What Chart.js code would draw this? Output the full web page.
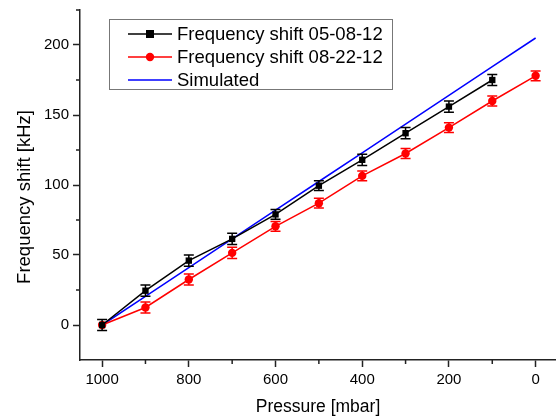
<!DOCTYPE html>
<html>
<head>
<meta charset="utf-8">
<script src="https://cdn.jsdelivr.net/npm/chart.js@4/dist/chart.umd.min.js"></script>
<style>
  body { margin: 0; background: #fff; }
</style>
</head>
<body>
<canvas id="chart" width="556" height="420"></canvas>
<script>
// pressure steps in mbar
const pressure = [1000, 900, 800, 700, 600, 500, 400, 300, 200, 100, 0];

// measured shifts in kHz (05-08-12 has no point at 0 mbar)
const shift0508 = [0, 24.5, 46, 61.5, 79, 99.5, 118, 137, 156, 175];
const err0508 = [4, 4, 4, 4, 3.5, 3.5, 4, 4, 4, 4];
const shift0822 = [0, 12.5, 32.5, 51.5, 70.5, 87, 106.5, 122.5, 141, 160, 178];
const err0822 = [0, 4, 4, 4, 3.5, 3.5, 3.5, 3.5, 3.5, 3.5, 3.5];
const simulated = [0, 20.5, 41, 61.5, 82, 102.5, 123, 143.5, 164, 184.5, 205];

const xTicks = [1000, 800, 600, 400, 200, 0];
const xMinor = [900, 700, 500, 300, 100];
const yTicks = [0, 50, 100, 150, 200];
const yMinor = [25, 75, 125, 175, 225];
const yTitle = "Frequency shift [kHz]";

const toPoints = (vals) => vals.map((v, i) => ({ x: pressure[i], y: v }));

const axisColor = "#222";
const fontFamily = "'Liberation Sans', Arial, sans-serif";

const errorBars = {
    id: "errorBars",
    afterDatasetsDraw(chart) {
        const { ctx, scales: { x, y } } = chart;
        chart.data.datasets.forEach((ds) => {
            if (!ds.errors) return;
            ctx.save();
            ctx.strokeStyle = ds.borderColor;
            ctx.lineWidth = 1.5;
            ds.data.forEach((p, i) => {
                const e = ds.errors[i];
                if (!e) return;
                const px = x.getPixelForValue(p.x);
                const top = y.getPixelForValue(p.y + e);
                const bot = y.getPixelForValue(p.y - e);
                ctx.beginPath();
                ctx.moveTo(px, top); ctx.lineTo(px, bot);
                ctx.moveTo(px - 5, top); ctx.lineTo(px + 5, top);
                ctx.moveTo(px - 5, bot); ctx.lineTo(px + 5, bot);
                ctx.stroke();
            });
            ctx.restore();
        });
    }
};

// minor ticks + y title (placed a bit below the axis centre like the original)
const axisExtras = {
    id: "axisExtras",
    afterDraw(chart) {
        const { ctx, scales: { x, y } } = chart;
        ctx.save();
        ctx.strokeStyle = axisColor;
        ctx.lineWidth = 1.5;
        ctx.beginPath();
        xMinor.forEach((v) => {
            const px = x.getPixelForValue(v);
            ctx.moveTo(px, x.top); ctx.lineTo(px, x.top + 4);
        });
        yMinor.forEach((v) => {
            const py = y.getPixelForValue(v);
            ctx.moveTo(y.right, py); ctx.lineTo(y.right - 4, py);
        });
        ctx.stroke();

        ctx.translate(25, 197);
        ctx.rotate(-Math.PI / 2);
        ctx.font = "18.5px " + fontFamily;
        ctx.fillStyle = "#000";
        ctx.textAlign = "center";
        ctx.textBaseline = "middle";
        ctx.fillText(yTitle, 0, 0);
        ctx.restore();
    }
};

const boxLegend = {
    id: "boxLegend",
    afterDraw(chart) {
        const ctx = chart.ctx;
        ctx.save();
        ctx.strokeStyle = "#777";
        ctx.lineWidth = 1;
        ctx.strokeRect(109.5, 19.5, 283, 70);
        ctx.font = "18.5px " + fontFamily;
        ctx.textBaseline = "middle";
        chart.data.datasets.forEach((ds, i) => {
            const cy = 34 + i * 23;
            ctx.strokeStyle = ds.borderColor;
            ctx.lineWidth = 1.5;
            ctx.beginPath();
            ctx.moveTo(128, cy); ctx.lineTo(172, cy);
            ctx.stroke();
            ctx.fillStyle = ds.borderColor;
            if (ds.pointStyle === "rect") {
                ctx.fillRect(146, cy - 4, 8, 8);
            } else if (ds.pointRadius > 0) {
                ctx.beginPath();
                ctx.arc(150, cy, 4.2, 0, Math.PI * 2);
                ctx.fill();
            }
            ctx.fillStyle = "#000";
            ctx.fillText(ds.label, 177, cy + 1);
        });
        ctx.restore();
    }
};

new Chart(document.getElementById("chart"), {
    type: "line",
    data: {
        datasets: [{
            label: "Frequency shift 05-08-12",
            data: toPoints(shift0508),
            errors: err0508,
            borderColor: "#000",
            backgroundColor: "#000",
            borderWidth: 1.5,
            pointStyle: "rect",
            pointRadius: 4.5,
            pointBorderWidth: 0
        }, {
            label: "Frequency shift 08-22-12",
            data: toPoints(shift0822),
            errors: err0822,
            borderColor: "#ff0000",
            backgroundColor: "#ff0000",
            borderWidth: 1.5,
            pointStyle: "circle",
            pointRadius: 4.2,
            pointBorderWidth: 0
        }, {
            label: "Simulated",
            data: toPoints(simulated),
            borderColor: "#0000ff",
            backgroundColor: "#0000ff",
            borderWidth: 1.5,
            pointRadius: 0
        }]
    },
    options: {
        responsive: false,
        animation: false,
        layout: { autoPadding: false, padding: { top: 10, right: 0, left: 0, bottom: 0 } },
        plugins: {
            legend: { display: false },
            tooltip: { enabled: false }
        },
        scales: {
            x: {
                type: "linear",
                reverse: true,
                min: -47,
                max: 1051,
                afterFit: (scale) => {
                    scale.height = 60;
                    scale.paddingLeft = 0;
                    scale.paddingRight = 0;
                },
                afterBuildTicks: (scale) => { scale.ticks = xTicks.map((v) => ({ value: v })); },
                ticks: { color: "#000", font: { size: 15, family: fontFamily }, padding: 4, maxRotation: 0, callback: (v) => String(v) },
                grid: { drawOnChartArea: false, drawTicks: true, tickLength: 7, tickColor: axisColor, tickWidth: 1.5 },
                border: { display: true, color: axisColor, width: 1.5 },
                title: { display: true, text: "Pressure [mbar]", color: "#000", font: { size: 17.5, family: fontFamily }, padding: { top: 0, bottom: 2 } }
            },
            y: {
                min: -25,
                max: 225,
                afterFit: (scale) => {
                    scale.width = 80;
                    scale.paddingTop = 0;
                    scale.paddingBottom = 0;
                },
                afterBuildTicks: (scale) => { scale.ticks = yTicks.map((v) => ({ value: v })); },
                ticks: { color: "#000", font: { size: 15, family: fontFamily }, padding: 4, callback: (v) => String(v) },
                grid: { drawOnChartArea: false, drawTicks: true, tickLength: 7, tickColor: axisColor, tickWidth: 1.5 },
                border: { display: true, color: axisColor, width: 1.5 }
            }
        }
    },
    plugins: [errorBars, axisExtras, boxLegend]
});
</script>
</body>
</html>
